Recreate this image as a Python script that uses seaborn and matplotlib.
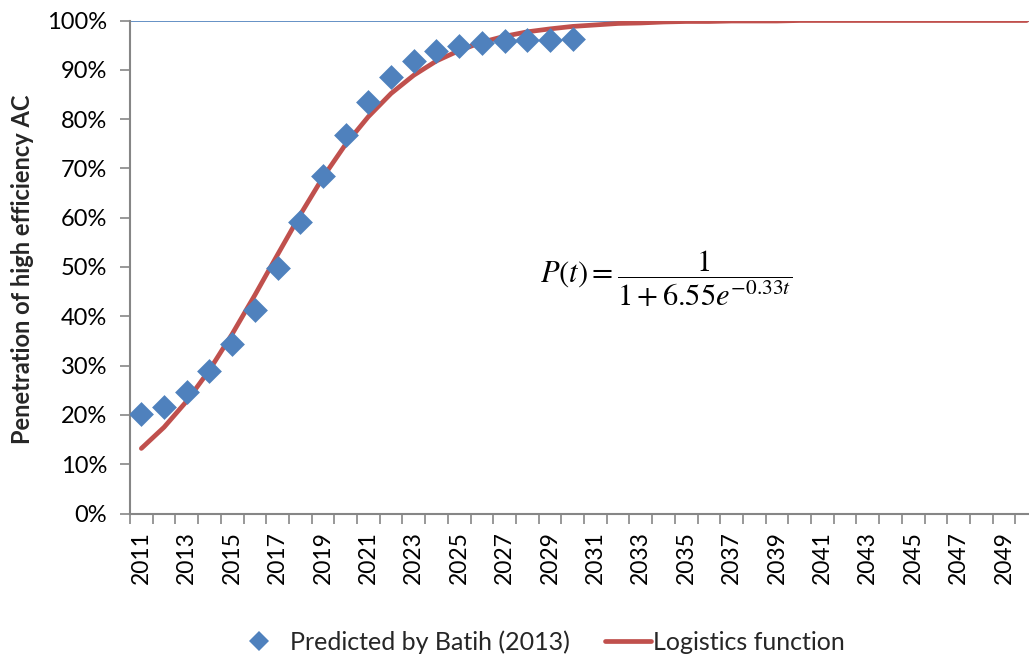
import matplotlib
matplotlib.use("Agg")
import matplotlib.pyplot as plt
import seaborn as sns
import pandas as pd
import numpy as np
from matplotlib.ticker import MultipleLocator, PercentFormatter, FixedLocator
from matplotlib.lines import Line2D

# ---- data ----
years = list(range(2011, 2051))
predicted_years = list(range(2011, 2031))
predicted = [0.201, 0.217, 0.247, 0.290, 0.343, 0.413, 0.498, 0.592, 0.685, 0.768,
             0.835, 0.886, 0.918, 0.938, 0.948, 0.954, 0.958, 0.960, 0.961, 0.962]
logistic = [0.132, 0.175, 0.228, 0.291, 0.364, 0.443, 0.525, 0.606, 0.682, 0.749,
            0.805, 0.852, 0.889, 0.918, 0.939, 0.956, 0.968, 0.977, 0.983, 0.988,
            0.991, 0.994, 0.995, 0.997, 0.998, 0.998, 0.999, 0.999, 0.999, 1.000,
            1.000, 1.000, 1.000, 1.000, 1.000, 1.000, 1.000, 1.000, 1.000, 1.000]
tick_years = list(range(2011, 2051, 2))

sns.set_theme(style="white")
plt.rcParams['font.family'] = ['Lato', 'DejaVu Sans']
plt.rcParams['mathtext.fontset'] = 'stix'

BLUE = "#4F81BD"
RED = "#C0504D"
GREY = "#868686"

fig = plt.figure(figsize=(10.29, 6.56), dpi=100)
W, H = 1029, 656
ax = fig.add_axes([130 / W, 142.5 / H, 899 / W, 493 / H])

df_line = pd.DataFrame({"year": years, "value": logistic})
df_pts = pd.DataFrame({"year": predicted_years, "value": predicted})

ax.axhline(1.0, color="#4A7EBB", lw=1.2, zorder=1)
sns.lineplot(data=df_line, x="year", y="value", ax=ax, color=RED, lw=3.4,
             solid_capstyle="round", zorder=2, legend=False)
sns.scatterplot(data=df_pts, x="year", y="value", ax=ax, marker="D", s=160,
                color=BLUE, edgecolor=BLUE, linewidth=0, zorder=3, legend=False)

ax.set_xlim(2010.5, 2050.1)
ax.set_ylim(0, 1)

# y axis
ax.yaxis.set_major_locator(MultipleLocator(0.1))
ax.yaxis.set_major_formatter(PercentFormatter(1.0, decimals=0))
ax.tick_params(axis="y", which="major", direction="out", length=7, width=1.2,
               color=GREY, pad=9.5, labelsize=17, labelcolor="black", left=True)

# x axis: labels at odd years, tick marks between categories
ax.xaxis.set_major_locator(FixedLocator(tick_years))
ax.set_xticklabels([str(y) for y in tick_years], rotation=90)
ax.xaxis.set_minor_locator(FixedLocator([y - 0.5 for y in years] + [2050.5]))
ax.tick_params(axis="x", which="major", length=0, pad=12.5, labelsize=16.5,
               labelcolor="black")
ax.tick_params(axis="x", which="minor", direction="out", length=7, width=1.2,
               color=GREY, bottom=True)

for s in ["top", "right"]:
    ax.spines[s].set_visible(False)
for s in ["left", "bottom"]:
    ax.spines[s].set_color(GREY)
    ax.spines[s].set_linewidth(1.5)

ax.set_xlabel("")
ax.set_ylabel("Penetration of high efficiency AC", fontsize=17, fontweight="bold")
ax.yaxis.set_label_coords(-0.1067, 0.496)

ax.text(2034.1, 0.477, r"$P(t)=\dfrac{1}{1+6.55e^{-0.33t}}$", fontsize=22,
        ha="center", va="center", color="black")

# legends
h1 = Line2D([], [], marker="D", color=BLUE, linestyle="none", markersize=10.5,
            markeredgewidth=0)
h2 = Line2D([], [], color=RED, lw=3.4, solid_capstyle="round")
fig.legend([h1], ["Predicted by Batih (2013)"], loc="center left",
           bbox_to_anchor=(246 / W, 14 / H), frameon=False, fontsize=18,
           handlelength=1.0, handletextpad=0.76, borderpad=0, borderaxespad=0)
fig.legend([h2], ["Logistics function"], loc="center left",
           bbox_to_anchor=(605 / W, 14 / H), frameon=False, fontsize=18,
           handlelength=1.84, handletextpad=0.08, borderpad=0, borderaxespad=0)

fig.savefig("out.png", dpi=100)
